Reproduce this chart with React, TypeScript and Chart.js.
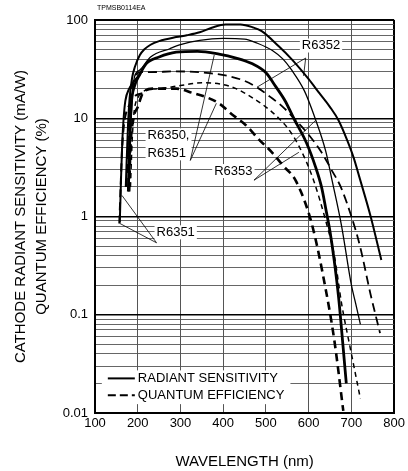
import React, { useEffect, useRef } from "react";
import { Chart, registerables } from "chart.js";

Chart.register(...registerables);

const FONT = '"Liberation Sans", Arial, Helvetica, sans-serif';

// ---- axes ----
const xTickValues = [100, 200, 300, 400, 500, 600, 700, 800];
const yDecadeValues = [0.01, 0.1, 1, 10, 100];
const yDecadeLabels = ["0.01", "0.1", "1", "10", "100"];
const yMinorMultipliers = [1, 2, 3, 4, 5, 6, 7, 8, 9];

// ---- R6352 ----
const r6352RadNm = [172, 177, 181, 187, 193, 205, 215, 230, 250, 290, 315, 345, 375, 405, 440, 470, 490, 530, 560, 600, 625, 650, 670, 690, 705, 720, 745, 770];
const r6352RadVal = [2, 8, 16, 26, 33, 44, 50, 56, 61, 67, 70, 75, 84, 90, 90, 84, 77, 54, 40, 25, 18, 13, 9.5, 6.0, 4.0, 2.4, 1.0, 0.36];
const r6352QeNm = [174, 178, 183, 189, 196, 210, 230, 290, 360, 410, 450, 480, 510, 540, 570, 600, 630, 655, 675, 700, 720, 745, 767];
const r6352QeVal = [2, 8, 16, 23, 28, 29.5, 29.5, 30, 29, 27, 24, 20.5, 16.5, 13, 9.5, 6.8, 4.5, 2.9, 2.0, 1.0, 0.5, 0.16, 0.065];

// ---- R6353 ----
const r6353RadNm = [180, 184, 188, 193, 205, 230, 275, 300, 345, 400, 450, 480, 515, 540, 560, 590, 615, 640, 655, 677, 700, 710, 721];
const r6353RadVal = [2, 8, 18, 27, 31, 42, 51, 56, 62, 65, 64, 58, 49, 40, 31, 19, 10, 4.6, 2.3, 0.8, 0.2, 0.13, 0.08];
const r6353QeNm = [183, 187, 192, 200, 215, 250, 300, 350, 400, 430, 470, 500, 530, 560, 590, 612, 640, 660, 677, 700, 721];
const r6353QeVal = [2, 6, 12, 16, 19, 20, 21.5, 23, 22, 20, 16, 13, 10, 7, 4, 2.3, 0.9, 0.4, 0.13, 0.04, 0.014];

// ---- R6350 / R6351 ----
const r6350RadNm = [178, 181, 185, 192, 205, 220, 250, 290, 340, 390, 430, 467, 500, 523, 545, 565, 595, 616, 630, 640, 650, 660, 670, 680, 688];
const r6350RadVal = [1.8, 6, 14, 21, 28, 36, 42, 47, 48, 45, 41, 36, 29, 21, 15, 10, 5.6, 3.2, 2.0, 1.2, 0.7, 0.35, 0.15, 0.05, 0.02];
const r6350QeNm = [180, 183, 190, 200, 212, 235, 290, 330, 360, 390, 420, 453, 485, 514, 540, 570, 607, 640, 660, 681];
const r6350QeVal = [1.8, 5, 10, 13, 18, 20, 20, 18, 16.4, 14.2, 11, 8.5, 6, 4.5, 3.3, 2.3, 0.85, 0.18, 0.055, 0.0105];
const r6351RadNm = [158, 161, 164, 167, 171, 180, 192, 205];
const r6351RadVal = [0.87, 2.5, 6, 10, 15, 20, 24, 28];
const r6351QeNm = [157, 160, 163, 167, 172, 182, 195, 212];
const r6351QeVal = [0.85, 2, 4.5, 8, 11, 14, 17, 18];

// ---- annotations (data coordinates) ----
const labelLines = [["R6352"], ["R6350,", "R6351"], ["R6353"], ["R6351"]];
const labelNm = [584, 223, 379, 244];
const labelVal = [55, 6.7, 2.9, 0.69];
const leaderFromNm = [593, 593, 323, 323, 472, 472, 244, 244];
const leaderFromVal = [41, 41, 3.72, 3.72, 2.34, 2.34, 0.54, 0.54];
const leaderToNm = [479, 588, 379, 384, 616, 577, 163, 158];
const leaderToVal = [20.7, 27, 44, 14.2, 9.5, 4.5, 1.64, 0.85];

const legendTexts = ["RADIANT SENSITIVITY", "QUANTUM EFFICIENCY"];
const legendNm = 130;
const legendVal = [0.0225, 0.0152];
const legendDashes = [[], [8, 4]];

const docCode = "TPMSB0114EA";

const pts = (nm: number[], val: number[]) => nm.map((x, i) => ({ x, y: val[i] }));
const isDecade = (v: number) => Math.abs(Math.log10(v) - Math.round(Math.log10(v))) < 1e-6;
const yGridValues = yDecadeValues
  .slice(0, -1)
  .flatMap((d) => yMinorMultipliers.map((m) => +(d * m).toPrecision(3)))
  .concat([yDecadeValues[yDecadeValues.length - 1]]);

const annotPlugin = {
  id: "annot",
  beforeDraw(chart: any) {
    const { ctx, width, height } = chart;
    ctx.save();
    ctx.fillStyle = "#fff";
    ctx.fillRect(0, 0, width, height);
    ctx.restore();
  },
  beforeDatasetsDraw(chart: any) {
    const { ctx, scales } = chart;
    const x = scales.x;
    const y = scales.y;
    ctx.save();
    ctx.font = `13px ${FONT}`;
    ctx.textBaseline = "middle";
    ctx.textAlign = "left";
    const lh = 18;
    labelLines.forEach((lines, i) => {
      const px = x.getPixelForValue(labelNm[i]);
      const py = y.getPixelForValue(labelVal[i]);
      const w = Math.max(...lines.map((l) => ctx.measureText(l).width));
      ctx.fillStyle = "#fff";
      ctx.fillRect(px - 2, py - 7, w + 4, lh * (lines.length - 1) + 14);
      ctx.fillStyle = "#000";
      lines.forEach((l, j) => ctx.fillText(l, px, py + j * lh));
    });
    ctx.strokeStyle = "#000";
    ctx.lineWidth = 0.8;
    leaderFromNm.forEach((_, i) => {
      ctx.beginPath();
      ctx.moveTo(x.getPixelForValue(leaderFromNm[i]), y.getPixelForValue(leaderFromVal[i]));
      ctx.lineTo(x.getPixelForValue(leaderToNm[i]), y.getPixelForValue(leaderToVal[i]));
      ctx.stroke();
    });
    const lx = x.getPixelForValue(legendNm);
    const rows = legendVal.map((v) => y.getPixelForValue(v));
    const tw = Math.max(...legendTexts.map((t) => ctx.measureText(t).width));
    ctx.fillStyle = "#fff";
    ctx.fillRect(lx - 6, rows[0] - 8, 30 + tw + 12, rows[rows.length - 1] - rows[0] + 17);
    legendTexts.forEach((t, i) => {
      ctx.setLineDash(legendDashes[i]);
      ctx.lineWidth = 2;
      ctx.beginPath();
      ctx.moveTo(lx, rows[i]);
      ctx.lineTo(lx + 27, rows[i]);
      ctx.stroke();
      ctx.setLineDash([]);
      ctx.fillStyle = "#000";
      ctx.fillText(t, lx + 30, rows[i]);
    });
    ctx.restore();
  },
  afterDraw(chart: any) {
    const { ctx, chartArea } = chart;
    ctx.save();
    ctx.font = `7px ${FONT}`;
    ctx.fillStyle = "#000";
    ctx.textBaseline = "middle";
    ctx.fillText(docCode, chartArea.left + 2, chartArea.top - 12);
    ctx.restore();
  },
};

export default function App() {
  const canvasRef = useRef<HTMLCanvasElement | null>(null);

  useEffect(() => {
    document.body.style.margin = "0";
    const canvas = canvasRef.current;
    if (!canvas) return;

    const line = (data: any, width: number, dash: number[]) => ({
      data,
      borderColor: "#000",
      borderWidth: width,
      borderDash: dash,
      pointRadius: 0,
      fill: false,
      cubicInterpolationMode: "monotone" as const,
    });

    const chart = new Chart(canvas, {
      type: "line",
      data: {
        datasets: [
          { label: "R6352 radiant", ...line(pts(r6352RadNm, r6352RadVal), 2, []) },
          { label: "R6353 radiant", ...line(pts(r6353RadNm, r6353RadVal), 1.3, []) },
          { label: "R6350 radiant", ...line(pts(r6350RadNm, r6350RadVal), 2.8, []) },
          { label: "R6351 radiant", ...line(pts(r6351RadNm, r6351RadVal), 2, []) },
          { label: "R6352 QE", ...line(pts(r6352QeNm, r6352QeVal), 1.8, [9, 5]) },
          { label: "R6353 QE", ...line(pts(r6353QeNm, r6353QeVal), 1.5, [5, 4]) },
          { label: "R6350 QE", ...line(pts(r6350QeNm, r6350QeVal), 2.6, [8, 5]) },
          { label: "R6351 QE", ...line(pts(r6351QeNm, r6351QeVal), 2, [8, 5]) },
        ],
      },
      options: {
        animation: false,
        responsive: false,
        layout: { padding: { top: 20, right: 12, left: 0, bottom: 0 } },
        plugins: { legend: { display: false }, tooltip: { enabled: false } },
        scales: {
          x: {
            type: "linear",
            min: 100,
            max: 800,
            afterBuildTicks: (s: any) => {
              s.ticks = xTickValues.map((v) => ({ value: v }));
            },
            afterFit: (s: any) => {
              s.height = 58;
            },
            ticks: {
              autoSkip: false,
              maxRotation: 0,
              padding: 3,
              color: "#000",
              font: { family: FONT, size: 13 },
              callback: (v: any) => String(v),
            },
            grid: {
              drawTicks: false,
              color: (c: any) => (c.tick && (c.tick.value === 100 || c.tick.value === 800) ? "#000" : "#555"),
              lineWidth: (c: any) => (c.tick && (c.tick.value === 100 || c.tick.value === 800) ? 2 : 1),
            },
            border: { display: true, color: "#000", width: 2 },
            title: {
              display: true,
              text: "WAVELENGTH (nm)",
              color: "#000",
              font: { family: FONT, size: 15, lineHeight: 1.2 },
              padding: { top: 0, bottom: 0 },
            },
          },
          y: {
            type: "logarithmic",
            min: 0.01,
            max: 100,
            afterBuildTicks: (s: any) => {
              s.ticks = yGridValues.map((v) => ({ value: v, major: isDecade(v) }));
            },
            afterFit: (s: any) => {
              s.width = 95;
            },
            ticks: {
              autoSkip: false,
              padding: 7,
              color: "#000",
              font: { family: FONT, size: 13 },
              callback: (v: any) => {
                const idx = yDecadeValues.findIndex((d) => Math.abs(d - Number(v)) < 1e-9);
                return idx >= 0 ? yDecadeLabels[idx] : "";
              },
            },
            grid: {
              drawTicks: false,
              color: (c: any) => (c.tick && isDecade(c.tick.value) ? "#000" : "#555"),
              lineWidth: (c: any) =>
                c.tick && (c.tick.value === 100 || c.tick.value === 0.01) ? 2 : c.tick && isDecade(c.tick.value) ? 1.5 : 0.9,
            },
            border: { display: true, color: "#000", width: 2 },
            title: {
              display: true,
              text: ["CATHODE RADIANT SENSITIVITY (mA/W)", "QUANTUM EFFICIENCY (%)"],
              color: "#000",
              font: { family: FONT, size: 15, lineHeight: 1.4 },
              padding: { top: 10.5, bottom: 0 },
            },
          },
        },
      },
      plugins: [annotPlugin],
    });

    return () => chart.destroy();
  }, []);

  return (
    <div style={{ width: 408, height: 471 }}>
      <canvas ref={canvasRef} width={408} height={471} style={{ display: "block", width: 408, height: 471 }} />
    </div>
  );
}
